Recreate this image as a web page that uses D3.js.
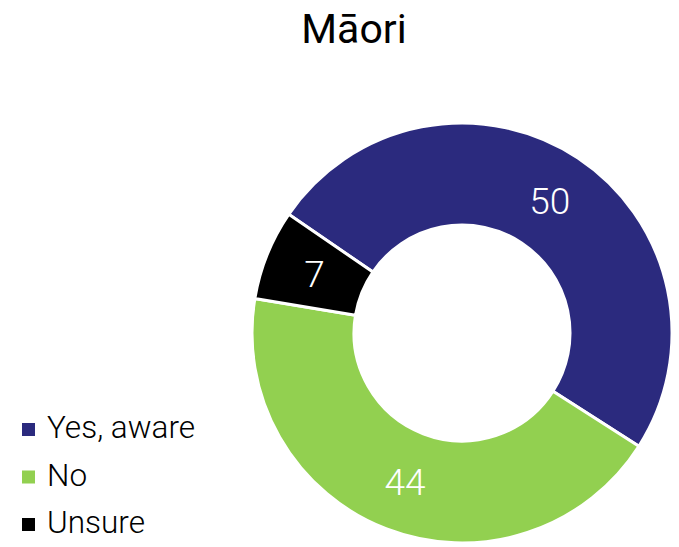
<!DOCTYPE html>
<html lang="en">
<head>
    <meta charset="UTF-8">
    <title>Māori</title>
    <script src="https://d3js.org/d3.v7.min.js"></script>
    <style>
        body { margin: 0; background: #fff; }
        svg { display: block; font-family: Roboto, "Noto Sans", sans-serif; }
    </style>
</head>
<body>
    <div id="chart"></div>
    <script>
        // Data
        const title = "Māori";
        const categories = ["Yes, aware", "No", "Unsure"];
        const values = [50, 44, 7];
        const colors = ["#2b2a7e", "#92d050", "#000000"];

        const width = 679, height = 547;
        const center = { x: 462, y: 333 };
        const outerR = 210, innerR = 108;
        const startDeg = -55.6;

        const svg = d3.select("#chart").append("svg")
            .attr("width", width)
            .attr("height", height);

        // Title
        svg.append("text")
            .attr("x", 354)
            .attr("y", 43)
            .attr("text-anchor", "middle")
            .attr("font-size", 41)
            .attr("fill", "#000")
            .text(title);

        const data = categories.map((c, i) => ({ name: c, value: values[i], color: colors[i] }));

        const start = startDeg * Math.PI / 180;
        const pie = d3.pie()
            .sort(null)
            .value(d => d.value)
            .startAngle(start)
            .endAngle(start + 2 * Math.PI);

        const arc = d3.arc().innerRadius(innerR).outerRadius(outerR);

        const g = svg.append("g").attr("transform", `translate(${center.x},${center.y})`);
        const arcs = pie(data);

        g.selectAll("path")
            .data(arcs)
            .join("path")
            .attr("d", arc)
            .attr("fill", d => d.data.color)
            .attr("stroke", "#fff")
            .attr("stroke-width", 3);

        // Value labels
        g.selectAll("text.val")
            .data(arcs)
            .join("text")
            .attr("class", "val")
            .attr("x", d => arc.centroid(d)[0])
            .attr("y", d => arc.centroid(d)[1])
            .attr("dy", "0.36em")
            .attr("text-anchor", "middle")
            .attr("font-size", 37)
            .attr("font-weight", 300)
            .attr("fill", "#fff")
            .text(d => d.data.value);

        // Legend
        const legend = svg.append("g");
        const rows = legend.selectAll("g")
            .data(data)
            .join("g")
            .attr("transform", (d, i) => `translate(22, ${438 + i * 47.5})`);

        rows.append("rect")
            .attr("x", 0)
            .attr("y", -15)
            .attr("width", 13)
            .attr("height", 13)
            .attr("fill", d => d.color);

        rows.append("text")
            .attr("x", 25)
            .attr("y", 0)
            .attr("font-size", 31.5)
            .attr("font-weight", 300)
            .attr("fill", "#000")
            .text(d => d.name);
    </script>
</body>
</html>
